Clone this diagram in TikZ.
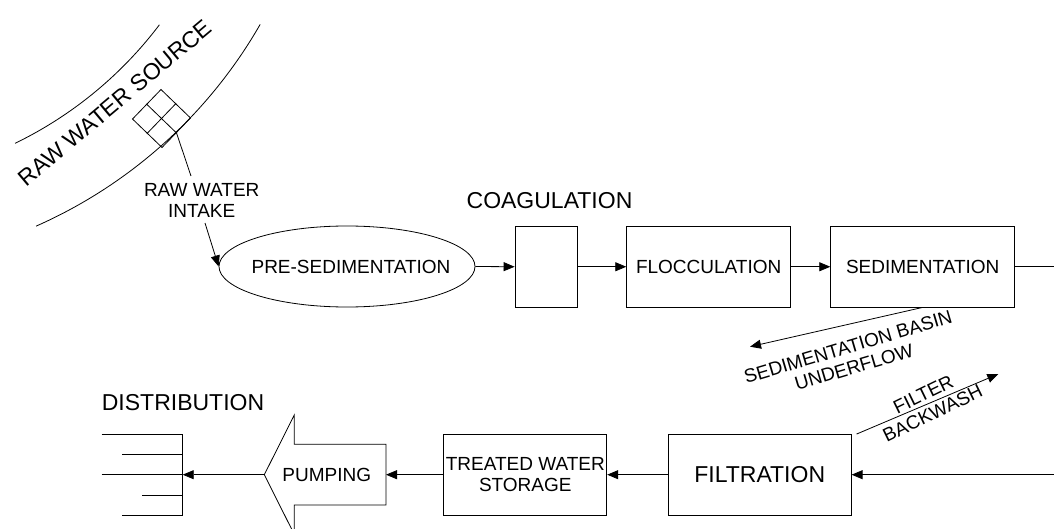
\documentclass[tikz,border=0pt]{standalone}
\usepackage{fontspec}
\setmainfont{Liberation Sans}
\usetikzlibrary{shapes.geometric,arrows.meta,calc}
\begin{document}
\begin{tikzpicture}[x=1pt,y=-1pt,
  line width=0.8pt,
  every node/.style={inner sep=0pt, font=\fontsize{19}{21}\selectfont},
  every label/.style={inner sep=0pt, font=\fontsize{19}{21}\selectfont},
  big/.style={font=\fontsize{23}{27}\selectfont},
  proc/.style={draw, rectangle, minimum height=80.5pt, align=center},
  flow/.style={-{Triangle[length=11pt,width=9pt]}},
]
\useasboundingbox (0,0) rectangle (1054,529);

% river banks
\draw plot[domain=29.85:66.15, samples=80] ({-159.6+484*cos(\x)},{-216.5+484*sin(\x)});
\draw plot[domain=37.1:64.1, samples=80] ({-159.6+400*cos(\x)},{-216.5+400*sin(\x)});
\node[big, rotate=40] (src) at (115,103) {RAW WATER SOURCE};

% intake
\node[draw, minimum size=41pt, rotate=46] (intake) at (161.5,118.5) {};
\draw (intake.north) -- (intake.south);
\draw (intake.east) -- (intake.west);
\coordinate (intakeEnd) at (191,176);
\draw (intake.south) -- (intakeEnd);
\node[align=center] (intakeLbl) at (201.7,200) {RAW WATER\\INTAKE};
\coordinate (intakeStart) at (205,223);

% top row
\node[draw, ellipse, minimum width=256pt, minimum height=81pt,
      label={[xshift=4pt]center:PRE-SEDIMENTATION}] (pre) at (347,266.5) {};
\draw[flow] (intakeStart) -- (pre.west);
\node[proc, minimum width=62pt] (coag) at (546,266.75) {};
\node[big] (coagLbl) at (549.5,201) {COAGULATION};
\node[proc, minimum width=164pt] (flocc) at (708.7,266.75) {FLOCCULATION};
\node[proc, minimum width=184pt] (sed) at (922.7,266.75) {SEDIMENTATION};
\coordinate (sedOut) at (1054,266.75);
\draw[flow] (pre.east) -- (coag.west);
\draw[flow] (coag.east) -- (flocc.west);
\draw[flow] (flocc.east) -- (sed.west);
\draw (sed.east) -- (sedOut);

% sedimentation underflow
\coordinate (uf) at (750,346.7);
\draw[flow] (sed.south) -- (uf);
\node[align=center, rotate=16.5] (ufLbl) at (851,357) {SEDIMENTATION BASIN\\UNDERFLOW};

% bottom row
\coordinate (filtIn) at (1054,474.7);
\node[proc, minimum width=183pt, big] (filt) at (759.7,474.7) {FILTRATION};
\draw[flow] (filtIn) -- (filt.east);
\coordinate (bw) at (998.3,374);
\draw[flow] ([xshift=5pt]filt.north east) -- (bw);
\node[align=center, rotate=26] (bwLbl) at (928,404) {FILTER\\BACKWASH};

\node[proc, minimum width=163pt] (treat) at (525.3,474.7) {TREATED WATER\\STORAGE};
\draw[flow] (filt.west) -- (treat.east);

% pumping
\coordinate (pumpTip) at (264.3,474.7);
\coordinate (pumpR) at (386,474.7);
\draw (pumpTip) -- (294.3,415) -- (294.3,444.3) -- (386,444.3) -- (386,505) -- (294.3,505) -- (294.3,534.4) -- cycle;
\node (pump) at (326.7,474.7) {PUMPING};
\draw[flow] (treat.west) -- (pumpR);

% distribution
\coordinate (distBar) at (182.7,474.7);
\draw[flow] (pumpTip) -- (distBar);
\draw (182.7,434.3) -- (182.7,515);
\draw (101.7,434.3) -- (182.7,434.3);
\draw (122.3,454.3) -- (182.7,454.3);
\draw (101.7,474.7) -- (182.7,474.7);
\draw (142.3,495) -- (182.7,495);
\draw (122.3,515) -- (182.7,515);
\node[big] (dist) at (183,402.5) {DISTRIBUTION};
\end{tikzpicture}
\end{document}
